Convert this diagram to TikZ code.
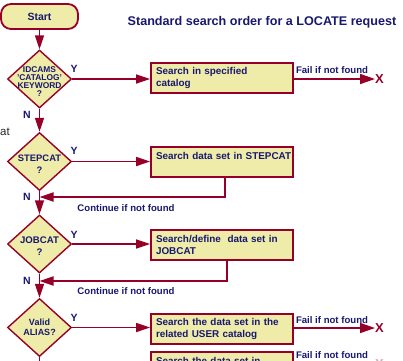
\documentclass[tikz,border=0pt]{standalone}
\usepackage{fontspec}
\setmainfont{Liberation Sans}
\usetikzlibrary{shapes.geometric,arrows.meta}
\definecolor{navy}{RGB}{24,24,112}
\definecolor{dred}{RGB}{150,0,40}
\definecolor{pale}{RGB}{238,236,168}
\begin{document}
\begin{tikzpicture}[x=1pt,y=-1pt,
 startbox/.style={draw=dred, line width=1.8pt, fill=pale, rounded corners=10pt, minimum width=77pt, minimum height=25pt, inner sep=0pt, text=navy, font=\bfseries\fontsize{10.5}{12}\selectfont},
 dia/.style={diamond, draw=dred, line width=1.4pt, fill=pale, minimum width=64pt, minimum height=58pt, inner sep=0pt},
 dtext/.style={text=navy, align=center, inner sep=0pt},
 actbox/.style={draw=dred, line width=1.8pt, fill=pale, minimum width=142pt, minimum height=30pt, inner xsep=5pt, inner ysep=0pt, text width=132pt, align=left, text=navy, font=\bfseries\fontsize{9.9}{11.5}\selectfont},
 lbl/.style={text=navy, inner sep=0pt, font=\bfseries\fontsize{9.6}{11}\selectfont},
 yn/.style={text=navy, inner sep=0pt, font=\bfseries\fontsize{10.5}{12}\selectfont},
 flow/.style={draw=dred, line width=1.6pt, -{Triangle[length=14pt,width=9pt]}},
 fail/.style={draw=dred, line width=1.6pt, -{Triangle[length=15pt,width=10pt]}},
 ret/.style={draw=dred, line width=1.8pt, -{Triangle[length=14pt,width=9pt]}},
 xmark/.style={text=dred, inner sep=0pt, font=\bfseries\fontsize{13}{14}\selectfont},
]
\useasboundingbox (0,0) rectangle (403,360);
\clip (0,0) rectangle (403,360);

% title
\node[lbl, font=\bfseries\fontsize{12.6}{14}\selectfont] (title) at (262,22) {Standard search order for a LOCATE request};

% stray text from slide
\node[anchor=base west, inner sep=0pt, text=black!85, font=\fontsize{11.5}{13}\selectfont] (stray) at (0,135) {at};

% start
\node[startbox] (start) at (39.5,16.5) {Start};

% diamonds
\node[dia] (d1) at (39.5,79) {};
\node[dtext, font=\bfseries\fontsize{8.4}{7.8}\selectfont] (t1) at (39.5,81.5) {IDCAMS\\'CATALOG'\\KEYWORD\\?};
\node[dia] (d2) at (39.5,161.5) {};
\node[dtext, font=\bfseries\fontsize{9.4}{12.5}\selectfont] (t2) at (39.5,164) {STEPCAT\\?};
\node[dia] (d3) at (39.5,244) {};
\node[dtext, font=\bfseries\fontsize{9.6}{12.5}\selectfont] (t3) at (39.5,246) {JOBCAT\\?};
\node[dia] (d4) at (39.5,327.5) {};
\node[dtext, font=\bfseries\fontsize{9}{10.5}\selectfont] (t4) at (39.5,327.5) {Valid\\ALIAS?};

% boxes
\node[actbox] (b1) at (222,78) {\mbox{Search in specified}\\catalog};
\node[actbox] (b2) at (222,162) {\mbox{Search data set in STEPCAT}\\\mbox{}};
\node[actbox] (b3) at (222,245) {\mbox{Search/define\ \ data set in}\\JOBCAT};
\node[actbox] (b4) at (222,329) {\mbox{Search the data set in the}\\\mbox{related USER catalog}};
\node[actbox] (b5) at (222,367) {\mbox{Search the data set in}\\\mbox{}};

% main flow
\draw[flow] (start) -- (d1);
\draw[flow] (d1) -- (d2);
\draw[flow] (d2) -- (d3);
\draw[flow] (d3) -- (d4);
\coordinate (bot) at (39.5,365);
\draw[draw=dred, line width=1.6pt] (d4.south) -- (bot);

% yes arrows
\draw[flow] (d1.east) -- (b1.west |- d1.east);
\draw[flow] (d2.east) -- (b2.west |- d2.east);
\draw[flow] (d3.east) -- (b3.west |- d3.east);
\draw[flow] (d4.east) -- (b4.west |- d4.east);

% fail arrows
\coordinate (x1) at (375,79);
\coordinate (x4) at (375,328);
\draw[fail] (b1.east |- x1) -- (x1);
\draw[fail] (b4.east |- x4) -- (x4);
\node[xmark, anchor=west] (X1) at (x1) {X};
\node[xmark, anchor=west] (X4) at (x4) {X};
\node[xmark, anchor=west, text=dred!35] (X5) at (375,364) {X};
\node[lbl] (f1) at (332,70) {Fail if not found};
\node[lbl] (f4) at (332,320) {Fail if not found};
\node[lbl] (f5) at (332,355) {Fail if not found};

% return arrows
\coordinate (m2) at (39.5,197);
\coordinate (m3) at (39.5,281);
\draw[ret] ([xshift=3pt]b2.south) |- (m2);
\draw[ret] ([xshift=5pt]b3.south) |- (m3);
\node[lbl] (c2) at (126,208) {Continue if not found};
\node[lbl] (c3) at (126,291) {Continue if not found};

% Y / N labels
\node[yn] (y1) at (74,69) {Y};
\node[yn] (y2) at (74,151) {Y};
\node[yn] (y3) at (74,235) {Y};
\node[yn] (y4) at (74,318) {Y};
\node[yn] (n1) at (27,115) {N};
\node[yn] (n2) at (27,197) {N};
\node[yn] (n3) at (27,281) {N};
\end{tikzpicture}
\end{document}
